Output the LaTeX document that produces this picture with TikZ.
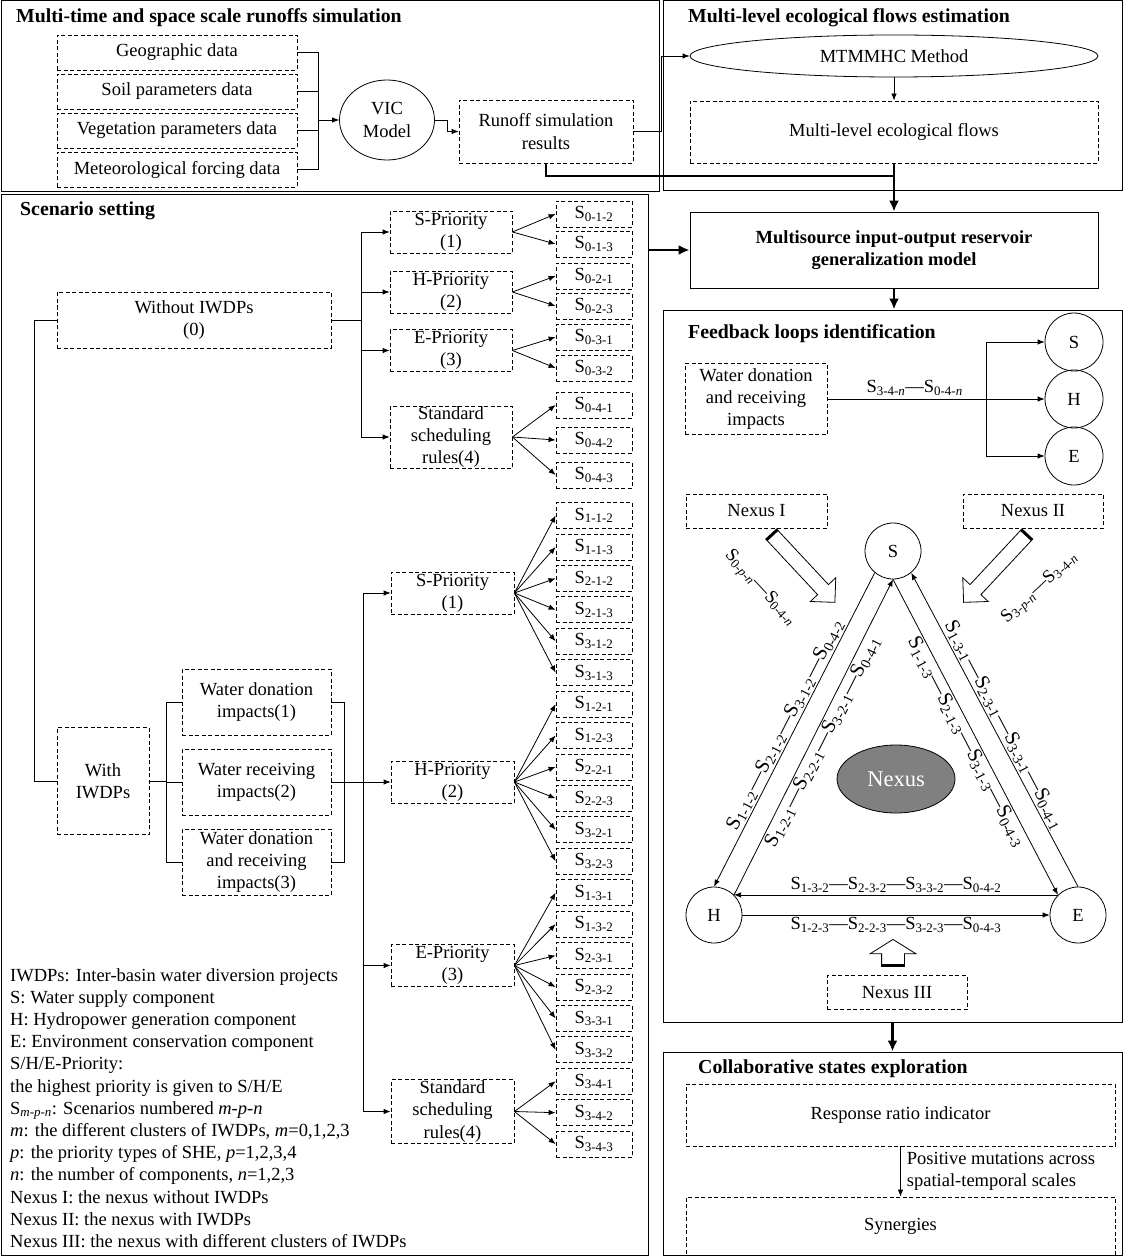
\documentclass[tikz,border=0pt]{standalone}
\usepackage{fontspec}
\setmainfont{Liberation Serif}
\usetikzlibrary{arrows.meta, shapes.geometric, shapes.arrows}
\newcommand{\tfont}{\fontsize{18.5}{22.2}\selectfont}
\newcommand{\hfont}{\fontsize{19.8}{23}\selectfont}
\newcommand{\Sn}[1]{S\textsubscript{#1}}
\tikzstyle{panel} = [draw, line width=1pt, inner sep=0pt]
\tikzstyle{dbox} = [draw, line width=0.8pt, dash pattern=on 4pt off 2.5pt, align=center, inner sep=0pt]
\tikzstyle{sbox} = [dbox, minimum width=76pt, minimum height=26pt]
\tikzstyle{pbox} = [dbox, minimum width=122pt, minimum height=42pt]
\tikzstyle{ring} = [circle, draw, line width=0.8pt, minimum size=56pt, inner sep=0pt]
\tikzstyle{title} = [anchor=base west, inner sep=0pt, font=\hfont\bfseries]
\tikzstyle{side} = [inner sep=1.5pt, font=\fontsize{20.5}{24}\selectfont]
\tikzstyle{link} = [line width=0.8pt]
\tikzstyle{arrow} = [line width=0.8pt, -{Latex[length=7pt,width=5.5pt]}]
\tikzstyle{bold link} = [line width=2.6pt]
\tikzstyle{bold arrow} = [line width=2.6pt, -{Latex[length=11pt,width=10pt]}]
\tikzstyle{block} = [single arrow, draw, line width=0.8pt, fill=white, inner xsep=0pt, single arrow tip angle=90]
\tikzstyle{band} = [line width=3pt]

\begin{document}
\begin{tikzpicture}[x=1pt, y=-1pt, every node/.style={font=\tfont}]
\useasboundingbox (0,0) rectangle (1124,1257);

% panels
\node[panel, minimum width=658pt, minimum height=191pt] (p1) at (330,96.5) {};
\node[panel, minimum width=459pt, minimum height=190pt] (p2) at (892.5,96) {};
\node[panel, minimum width=647pt, minimum height=1060pt] (scen) at (324.5,725) {};
\node[panel, minimum width=459pt, minimum height=712pt] (fb) at (892.5,666) {};
\node[panel, minimum width=459pt, minimum height=203pt] (collab) at (892.5,1153.5) {};

\node[title] at (16,23) {Multi-time and space scale runoffs simulation};
\node[title] at (688,23) {Multi-level ecological flows estimation};
\node[title] at (20,216) {Scenario setting};
\node[title] at (688,338) {Feedback loops identification};
\node[title] at (698,1073) {Collaborative states exploration};

% runoff simulation
\node[dbox, minimum width=240pt, minimum height=35pt] (geo) at (177,52.5) {Geographic data};
\node[dbox, minimum width=240pt, minimum height=35pt] (soil) at (177,91.5) {Soil parameters data};
\node[dbox, minimum width=240pt, minimum height=35pt] (veg) at (177,130.5) {Vegetation parameters data};
\node[dbox, minimum width=240pt, minimum height=35pt] (met) at (177,169.5) {Meteorological forcing data};
\node[ellipse, draw, line width=0.8pt, minimum width=95pt, minimum height=80pt, inner sep=0pt, align=center] (vic) at (387,120) {VIC\\Model};
\node[dbox, minimum width=174pt, minimum height=63pt] (runoff) at (546,131.5) {Runoff simulation\\results};
\coordinate (busA) at (318,120);
\foreach \n in {geo,soil,veg,met}
  \draw[link] (\n.east) -| (busA);
\draw[arrow] (busA) -- (vic.west);
\draw[arrow] (vic.east) -- ++(12,0) |- (runoff.west);

% ecological flows
\node[ellipse, draw, line width=0.8pt, minimum width=408pt, minimum height=42pt, inner sep=0pt] (mtm) at (894,56) {MTMMHC Method};
\node[dbox, minimum width=408pt, minimum height=62pt] (flows) at (894,132) {Multi-level ecological flows};
\node[draw, line width=0.8pt, minimum width=408pt, minimum height=76pt, inner sep=0pt, align=center, font=\tfont\bfseries] (model) at (894,250) {Multisource input-output reservoir\\generalization model};
\draw[arrow] (runoff.east) -- ++(28,0) |- (mtm.west);
\draw[arrow] (mtm) -- (flows);
\coordinate (join) at (894,176);
\draw[bold link] (runoff.south) |- (join);
\draw[bold arrow] (flows.south) -- (model.north);
\draw[bold arrow] (scen.east |- model.west) -- (model.west);
\draw[bold arrow] (model.south) -- (model.south |- fb.north);
\draw[bold arrow] (fb.south) -- (collab.north);

% scenarios without IWDPs
\node[dbox, minimum width=274pt, minimum height=56pt] (wo) at (194,320) {Without IWDPs\\(0)};
\node[pbox] (sp0) at (451,232) {S-Priority\\(1)};
\node[pbox] (hp0) at (451,292) {H-Priority\\(2)};
\node[pbox] (ep0) at (451,350.5) {E-Priority\\(3)};
\node[pbox, minimum height=62pt] (rp0) at (451,437) {Standard\\scheduling\\rules(4)};
\coordinate (busB) at (361,320);
\draw[link] (wo.east) -- (busB);
\foreach \p in {sp0,hp0,ep0,rp0}
  \draw[arrow] (busB) |- (\p.west);
\foreach \lab/\y [count=\i] in {0-1-2/214,0-1-3/244,0-2-1/276,0-2-3/306,0-3-1/337,0-3-2/368,0-4-1/405,0-4-2/440,0-4-3/475}
  \node[sbox] (t\i) at (594,\y) {\Sn{\lab}};
\foreach \i in {1,2} \draw[arrow] (sp0.east) -- (t\i.west);
\foreach \i in {3,4} \draw[arrow] (hp0.east) -- (t\i.west);
\foreach \i in {5,6} \draw[arrow] (ep0.east) -- (t\i.west);
\foreach \i in {7,8,9} \draw[arrow] (rp0.east) -- (t\i.west);

% scenarios with IWDPs
\node[dbox, minimum width=92pt, minimum height=107pt] (with) at (103,781) {With\\IWDPs};
\draw[link] (wo.west) -- ++(-22,0) |- (with.west);
\node[dbox, minimum width=149pt, minimum height=66pt] (imp1) at (256.5,702) {Water donation\\impacts(1)};
\node[dbox, minimum width=149pt, minimum height=66pt] (imp2) at (256.5,782) {Water receiving\\impacts(2)};
\node[dbox, minimum width=149pt, minimum height=66pt] (imp3) at (256.5,862) {Water donation\\and receiving\\impacts(3)};
\coordinate (busC) at (166,781);
\coordinate (busD) at (344,782);
\draw[link] (with.east) -- (busC);
\foreach \n in {imp1,imp2,imp3}
  \draw[link] (busC) |- (\n.west);
\draw[link] (imp1.east) -| (busD);
\draw[link] (imp3.east) -| (busD);
\node[pbox, minimum width=123pt] (sp1) at (452.5,593) {S-Priority\\(1)};
\node[pbox, minimum width=123pt] (hp1) at (452.5,782) {H-Priority\\(2)};
\node[pbox, minimum width=123pt] (ep1) at (452.5,965.5) {E-Priority\\(3)};
\node[pbox, minimum width=123pt, minimum height=64pt] (rp1) at (452.5,1111.5) {Standard\\scheduling\\rules(4)};
\coordinate (busE) at (363,782);
\draw[arrow] (imp2.east) -- (hp1.west);
\foreach \p in {sp1,ep1,rp1}
  \draw[arrow] (busE) |- (\p.west);
\foreach \lab [count=\i] in {1-1-2,1-1-3,2-1-2,2-1-3,3-1-2,3-1-3,1-2-1,1-2-3,2-2-1,2-2-3,3-2-1,3-2-3,1-3-1,1-3-2,2-3-1,2-3-2,3-3-1,3-3-2,3-4-1,3-4-2,3-4-3}
  \node[sbox] (l\i) at (594,{515.5+31.43*(\i-1)}) {\Sn{\lab}};
\foreach \i in {1,...,6} \draw[arrow] (sp1.east) -- (l\i.west);
\foreach \i in {7,...,12} \draw[arrow] (hp1.east) -- (l\i.west);
\foreach \i in {13,...,18} \draw[arrow] (ep1.east) -- (l\i.west);
\foreach \i in {19,20,21} \draw[arrow] (rp1.east) -- (l\i.west);

% legend
\node[anchor=north west, align=left, inner sep=0pt] (legend) at (10,968) {IWDPs: Inter-basin water diversion projects\\
S: Water supply component\\
H: Hydropower generation component\\
E: Environment conservation component\\
S/H/E-Priority:\\
the highest priority is given to S/H/E\\
\Sn{\textit{m-p-n}}: Scenarios numbered \textit{m-p-n}\\
\textit{m}: the different clusters of IWDPs, \textit{m}=0,1,2,3\\
\textit{p}: the priority types of SHE, \textit{p}=1,2,3,4\\
\textit{n}: the number of components, \textit{n}=1,2,3\\
Nexus I: the nexus without IWDPs\\
Nexus II: the nexus with IWDPs\\
Nexus III: the nexus with different clusters of IWDPs};

% feedback loops
\node[dbox, minimum width=142pt, minimum height=71pt] (wdr) at (756,399) {Water donation\\and receiving\\impacts};
\node[ring, minimum size=58pt] (cs) at (1074,342) {S};
\node[ring, minimum size=58pt] (ch) at (1074,399) {H};
\node[ring, minimum size=58pt] (ce) at (1074,456) {E};
\coordinate (busF) at (986,399);
\draw[link] (wdr.east) -- (busF) node[pos=0.55, above, inner sep=3pt] {\Sn{3-4-\textit{n}}---\Sn{0-4-\textit{n}}};
\foreach \c in {cs,ch,ce}
  \draw[arrow] (busF) |- (\c.west);

\node[dbox, minimum width=141pt, minimum height=34pt] (nx1) at (756.5,511) {Nexus I};
\node[dbox, minimum width=140pt, minimum height=34pt] (nx2) at (1033,511) {Nexus II};
\node[dbox, minimum width=140pt, minimum height=34pt] (nx3) at (897,992.5) {Nexus III};

\node[ring] (tS) at (893,551) {S};
\node[ring] (tH) at (714,915) {H};
\node[ring] (tE) at (1078,915) {E};
\node[ellipse, draw, line width=0.8pt, fill=black!50, text=white, minimum width=118pt, minimum height=68pt, inner sep=0pt, font=\fontsize{22.5}{26}\selectfont] (nex) at (896,779) {Nexus};

\draw[arrow] (tS.230) -- (tH.90) node[midway, sloped, above, side] {\Sn{1-1-2}---\Sn{2-1-2}---\Sn{3-1-2}---\Sn{0-4-2}};
\draw[arrow] (tH.45) -- (tS.270) node[midway, sloped, below, side] {\Sn{1-2-1}---\Sn{2-2-1}---\Sn{3-2-1}---\Sn{0-4-1}};
\draw[arrow] (tS.270) -- (tE.135) node[midway, sloped, below, side] {\Sn{1-1-3}---\Sn{2-1-3}---\Sn{3-1-3}---\Sn{0-4-3}};
\draw[arrow] (tE.90) -- (tS.310) node[midway, sloped, above, side] {\Sn{1-3-1}---\Sn{2-3-1}---\Sn{3-3-1}---\Sn{0-4-1}};
\draw[arrow] (tE.135) -- (tH.45) node[midway, above, inner sep=2pt] {\Sn{1-3-2}---\Sn{2-3-2}---\Sn{3-3-2}---\Sn{0-4-2}};
\draw[arrow] (tH.east) -- (tE.west) node[midway, below, inner sep=2pt] {\Sn{1-2-3}---\Sn{2-2-3}---\Sn{3-2-3}---\Sn{0-4-3}};

% nexus block arrows
\node[block, inner ysep=7pt, minimum height=92pt, single arrow head extend=10pt, rotate=-47] (aI) at (801,566) {};
\node[block, inner ysep=7pt, minimum height=92pt, single arrow head extend=10pt, rotate=-133] (aII) at (997.5,566) {};
\node[block, inner ysep=11pt, minimum height=26pt, single arrow head extend=11.5pt, single arrow tip angle=116, rotate=90] (aIII) at (893,956) {};
\foreach \a in {aI,aII,aIII}
  \draw[band] (\a.before tail) -- (\a.after tail);
\node[rotate=-47] (lI) at (760,588) {\Sn{0-\textit{p}-\textit{n}}---\Sn{0-4-\textit{n}}};
\node[rotate=43] (lII) at (1040,588) {\Sn{3-\textit{p}-\textit{n}}---\Sn{3-4-\textit{n}}};

% collaborative states
\node[dbox, minimum width=429pt, minimum height=62pt] (resp) at (900.5,1115) {Response ratio indicator};
\node[dbox, minimum width=429pt, minimum height=58pt] (syn) at (900.5,1226) {Synergies};
\draw[arrow] (resp.south) -- (syn.north) node[midway, right, align=left, inner sep=6pt] {Positive mutations across\\spatial-temporal scales};

\end{tikzpicture}
\end{document}
